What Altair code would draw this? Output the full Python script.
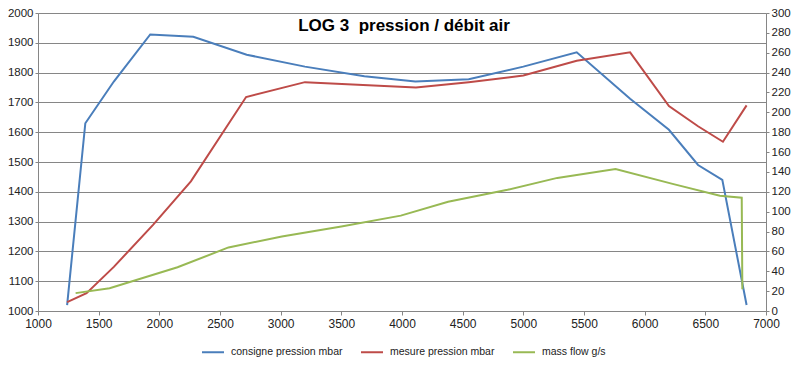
import altair as alt
import pandas as pd

# consigne pression mbar
rpm_consigne = [1240, 1390, 1625, 1925, 2280, 2720, 3200, 3690, 4110, 4550, 5000, 5440, 5880, 6200, 6440, 6640, 6840]
consigne = [1020, 1630, 1770, 1928, 1920, 1860, 1820, 1788, 1770, 1778, 1820, 1868, 1712, 1608, 1490, 1440, 1020]

# mesure pression mbar
rpm_mesure = [1240, 1400, 1625, 1950, 2260, 2715, 3200, 4115, 4550, 5000, 5440, 5880, 6200, 6440, 6645, 6840]
mesure = [1030, 1060, 1148, 1290, 1435, 1718, 1768, 1750, 1768, 1790, 1840, 1868, 1688, 1620, 1568, 1690]

# mass flow g/s
rpm_flow = [1310, 1590, 2150, 2570, 3010, 3500, 3990, 4380, 4870, 5280, 5760, 6230, 6620, 6800, 6805]
flow = [18, 23, 44, 64, 75, 85, 96, 110, 122, 134, 143, 128, 116, 114, 22]

names = ["consigne pression mbar", "mesure pression mbar", "mass flow g/s"]
colors = ["#4A7EBB", "#BE4B48", "#98B954"]
title_text = "LOG 3\u00a0 pression / débit air"

df_p = pd.concat([
    pd.DataFrame({"rpm": rpm_consigne, "val": consigne, "series": names[0], "idx": range(len(consigne))}),
    pd.DataFrame({"rpm": rpm_mesure, "val": mesure, "series": names[1], "idx": range(len(mesure))}),
])
df_f = pd.DataFrame({"rpm": rpm_flow, "val": flow, "series": names[2], "idx": range(len(flow))})
df_t = pd.DataFrame({"t": [title_text]})

FONT = "Liberation Sans"
GRAY = "#868686"
TXT = "#222222"

color = alt.Color(
    "series:N",
    scale=alt.Scale(domain=names, range=colors),
    legend=alt.Legend(
        orient="none", legendX=163, legendY=327, direction="horizontal", title=None,
        symbolType="stroke", symbolStrokeWidth=2, symbolSize=484,
        labelFont=FONT, labelFontSize=10.5, labelColor=TXT,
        columnPadding=14, labelOffset=6, padding=0, gridAlign="each",
    ),
)

x = alt.X(
    "rpm:Q",
    scale=alt.Scale(domain=[1000, 7000], nice=False, zero=False),
    axis=alt.Axis(
        values=list(range(1000, 7001, 500)), format="d", title=None, grid=False,
        labelFlush=False, domainColor=GRAY, tickColor=GRAY, tickSize=4,
        labelFont=FONT, labelFontSize=12, labelColor=TXT, labelPadding=3,
    ),
)

left = alt.Chart(df_p).mark_line(strokeWidth=2).encode(
    x=x,
    y=alt.Y(
        "val:Q",
        scale=alt.Scale(domain=[1000, 2000], nice=False, zero=False),
        axis=alt.Axis(
            values=list(range(1000, 2001, 100)), format="d", title=None, grid=True,
            gridColor=GRAY, gridWidth=1, domainColor=GRAY, tickColor=GRAY,
            tickSize=3, labelFont=FONT, labelFontSize=11.5, labelColor=TXT,
            labelPadding=2, orient="left", labelFlush=False,
        ),
    ),
    color=color,
    order=alt.Order("idx:Q"),
    detail="series:N",
)

right = alt.Chart(df_f).mark_line(strokeWidth=2).encode(
    x=x,
    y=alt.Y(
        "val:Q",
        scale=alt.Scale(domain=[0, 300], nice=False),
        axis=alt.Axis(
            values=list(range(0, 301, 20)), format="d", title=None, grid=False,
            domainColor=GRAY, tickColor=GRAY, tickSize=3, labelFont=FONT,
            labelFontSize=11.5, labelColor=TXT, labelPadding=2,
            orient="right", labelFlush=False,
        ),
    ),
    color=color,
    order=alt.Order("idx:Q"),
)

title = alt.Chart(df_t).mark_text(
    font=FONT, fontSize=17, fontWeight="bold", color="#000000",
    align="center", baseline="middle",
).encode(text="t:N", x=alt.value(366), y=alt.value(13))

chart = (
    alt.layer(left, right, title)
    .resolve_scale(y="independent")
    .properties(
        width=728,
        height=298,
        padding={"left": 30, "top": 5, "right": 26, "bottom": 47},
        autosize=alt.AutoSizeParams(type="none"),
    )
    .configure_view(stroke="transparent")
    .configure(background="white")
)

chart.save("out.html", embed_options={"renderer": "svg", "actions": False})
